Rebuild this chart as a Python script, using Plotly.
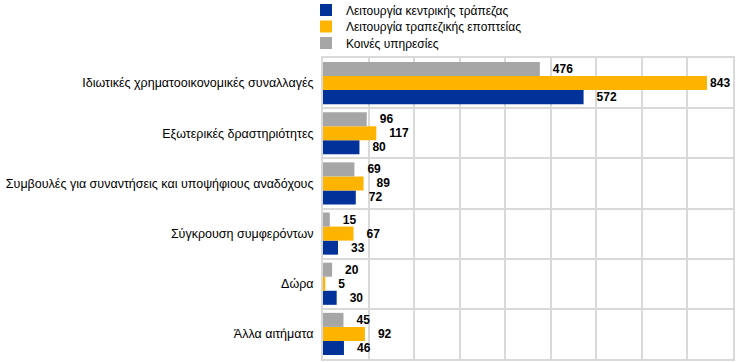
import plotly.graph_objects as go

categories = [
    "Ιδιωτικές χρηματοοικονομικές συναλλαγές",
    "Εξωτερικές δραστηριότητες",
    "Συμβουλές για συναντήσεις και υποψήφιους αναδόχους",
    "Σύγκρουση συμφερόντων",
    "Δώρα",
    "Άλλα αιτήματα",
]
series_names = [
    "Λειτουργία κεντρικής τράπεζας",
    "Λειτουργία τραπεζικής εποπτείας",
    "Κοινές υπηρεσίες",
]
central_banking = [572, 80, 72, 33, 30, 46]
supervision = [843, 117, 89, 67, 5, 92]
shared_services = [476, 96, 69, 15, 20, 45]

colors = ["#003299", "#FFB400", "#A6A6A6"]
values = [central_banking, supervision, shared_services]

W, H = 744, 362
n = len(categories)
ypos = [n - 1 - i for i in range(n)]

legend_ids = ["legend", "legend2", "legend3"]
legend_centers = [10, 26.5, 43]

fig = go.Figure()
for name, vals, col, lid in zip(series_names, values, colors, legend_ids):
    labels = [("\u00a0\u00a0\u00a0" if v < 800 else "") + str(v) for v in vals]
    fig.add_trace(go.Bar(
        name=name, x=vals, y=ypos, orientation="h", legend=lid,
        marker=dict(color=col, line=dict(width=0)),
        text=labels, textposition="outside", cliponaxis=False,
        textfont=dict(family="Liberation Sans, Arial", size=12, color="#000000", weight="bold"),
        hoverinfo="skip",
    ))

legend_common = dict(
    x=306 / W, xanchor="left", yanchor="middle", yref="container", xref="container",
    orientation="v", font=dict(family="Liberation Sans, Arial", size=12, color="#000000"),
    bgcolor="rgba(0,0,0,0)", borderwidth=0,
)
layout_legends = {}
for lid, cy in zip(legend_ids, legend_centers):
    layout_legends[lid] = dict(legend_common, y=1 - cy / H)

fig.update_layout(
    width=W, height=H,
    margin=dict(l=323, r=11, t=58, b=3, autoexpand=False),
    barmode="group", bargap=0.16, bargroupgap=0,
    plot_bgcolor="white", paper_bgcolor="white",
    font=dict(family="Liberation Sans, Arial", size=12.5, color="#000000"),
    showlegend=True,
    **layout_legends,
)
fig.update_xaxes(
    range=[0, 900], dtick=100, showticklabels=False, ticks="",
    showgrid=True, gridcolor="#D9D9D9", gridwidth=2,
    zeroline=False, showline=True, linecolor="#D9D9D9", linewidth=2, mirror=True,
)
fig.update_yaxes(
    range=[-0.5, n - 0.5], tickvals=ypos, ticktext=categories, ticks="",
    tickfont=dict(size=12.5, color="#000000"),
    showgrid=False, zeroline=False, ticklabelstandoff=5,
    showline=True, linecolor="#D9D9D9", linewidth=2, mirror=True,
    minor=dict(tickvals=[i + 0.5 for i in range(-1, n)], showgrid=True,
               gridcolor="#D9D9D9", gridwidth=2, ticks=""),
)

fig.write_html(
    "out.html",
    config={"displayModeBar": False},
    post_script="document.body.style.margin='0';document.body.style.overflow='hidden';",
)
